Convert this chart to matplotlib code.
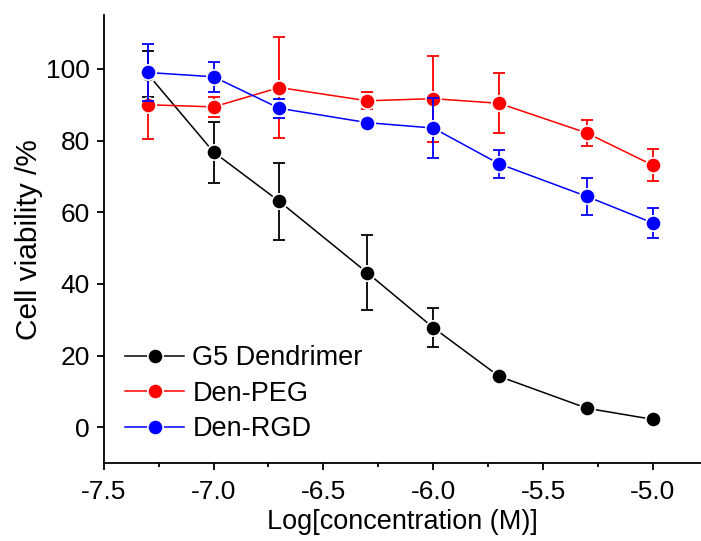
import matplotlib
matplotlib.use("Agg")
import matplotlib.pyplot as plt
from matplotlib.ticker import MultipleLocator, FormatStrFormatter

plt.rcParams["font.family"] = ["Liberation Sans", "DejaVu Sans"]

log_conc = [-7.3, -7.0, -6.7, -6.3, -6.0, -5.7, -5.3, -5.0]

g5 = [98.6, 76.8, 63.0, 43.1, 27.8, 14.2, 5.3, 2.2]
g5_err = [6.5, 8.5, 10.7, 10.5, 5.4, 0.0, 0.0, 0.0]

peg = [90.0, 89.4, 94.8, 91.1, 91.7, 90.4, 82.1, 73.1]
peg_err = [9.7, 2.7, 14.0, 2.4, 12.0, 8.4, 3.6, 4.5]

rgd = [99.0, 97.8, 89.0, 85.0, 83.5, 73.5, 64.4, 57.0]
rgd_err = [8.0, 4.2, 2.6, 1.0, 8.3, 4.0, 5.2, 4.3]

series = [
    ("G5 Dendrimer", g5, g5_err, "black"),
    ("Den-PEG", peg, peg_err, "#ff0000"),
    ("Den-RGD", rgd, rgd_err, "#0000ff"),
]

fig = plt.figure(figsize=(7.01, 5.41), dpi=100)
ax = fig.add_axes([0.148, 0.144, 0.852, 0.828])

for i, (name, vals, err, col) in enumerate(series):
    ax.errorbar(log_conc, vals, yerr=err, fmt="none", ecolor=col, elinewidth=1.3,
                capsize=4.5, capthick=1.3, zorder=2 + i)
    ax.plot(log_conc, vals, "-o", color=col, lw=1.1, ms=11, mec="white", mew=1.2,
            label=name, zorder=2.5 + i)

ax.set_xlim(-7.5, -4.781)
ax.set_ylim(-10, 115)
ax.xaxis.set_major_locator(MultipleLocator(0.5))
ax.xaxis.set_minor_locator(MultipleLocator(0.25))
ax.yaxis.set_major_locator(MultipleLocator(20))
ax.xaxis.set_major_formatter(FormatStrFormatter("%.1f"))

for side in ("top", "right"):
    ax.spines[side].set_visible(False)
for side in ("left", "bottom"):
    ax.spines[side].set_linewidth(1.3)

ax.tick_params(which="major", direction="out", length=5, width=1.3, labelsize=19)
ax.tick_params(axis="x", which="major", pad=7)
ax.tick_params(axis="y", which="major", pad=5)
ax.tick_params(which="minor", direction="out", length=3, width=1.3)
ax.set_xlabel("Log[concentration (M)]", fontsize=19.5, labelpad=4)
ax.set_ylabel("Cell viability /%", fontsize=21.5, labelpad=2)

ax.legend(loc="lower left", frameon=False, fontsize=19.5, handlelength=2.2,
          handletextpad=0.3, labelspacing=0.35, borderaxespad=0.0,
          bbox_to_anchor=(0.017, 0.022))

fig.savefig("out.png", dpi=100)
